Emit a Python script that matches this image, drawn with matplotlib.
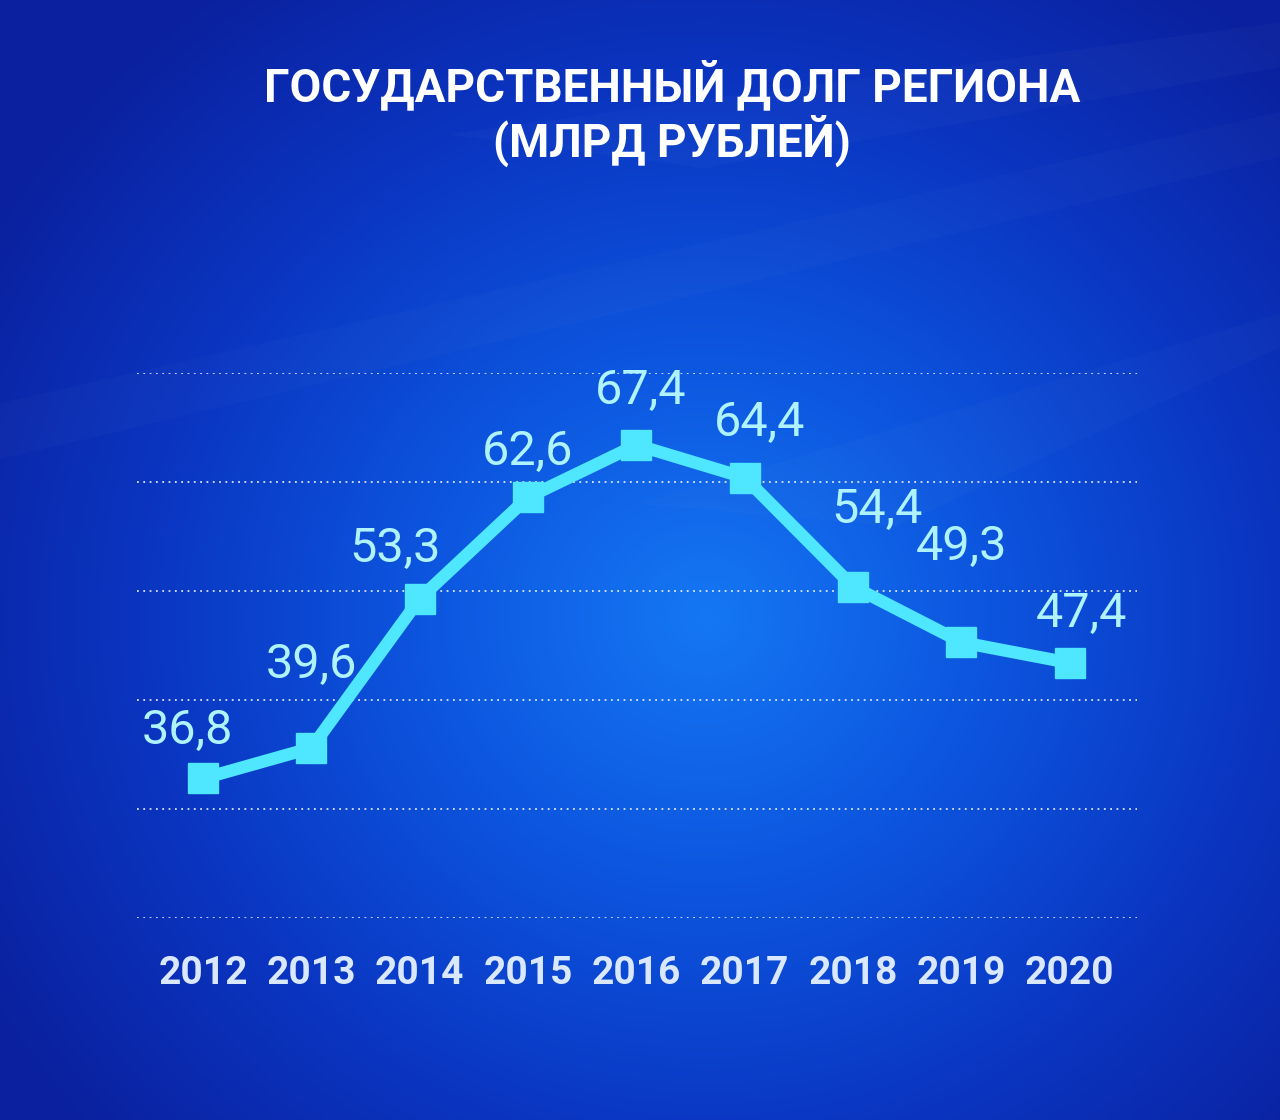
import matplotlib
matplotlib.use("Agg")
import matplotlib.pyplot as plt
import numpy as np
from matplotlib.colors import LinearSegmentedColormap

years = ["2012", "2013", "2014", "2015", "2016", "2017", "2018", "2019", "2020"]
debt = [36.8, 39.6, 53.3, 62.6, 67.4, 64.4, 54.4, 49.3, 47.4]
value_labels = ["36,8", "39,6", "53,3", "62,6", "67,4", "64,4", "54,4", "49,3", "47,4"]
title = "ГОСУДАРСТВЕННЫЙ ДОЛГ РЕГИОНА\n(МЛРД РУБЛЕЙ)"

# label offsets in pixels (dx, dy) relative to the points
offsets = [(-16, 48), (0, 83), (-25, 50), (0, 45), (4, 54), (15, 55), (24, 77), (0, 95), (12, 49)]

fig = plt.figure(figsize=(12.8, 11.2), dpi=100)

# background gradient
bg = fig.add_axes([0, 0, 1, 1])
h, w = 560, 640
yy, xx = np.mgrid[0:h, 0:w]
cx, cy = 0.55 * w, 0.55 * h
r = np.sqrt(((xx - cx) / (0.65 * w)) ** 2 + ((yy - cy) / (0.7 * h)) ** 2)
r = np.clip(r, 0, 1)
cmap = LinearSegmentedColormap.from_list("bg", ["#1577f3", "#0d56df", "#0a36c2", "#0a209e"])
bg.imshow(r, cmap=cmap, aspect="auto", extent=[0, 1, 0, 1], origin="upper")
# faint diagonal streaks
bg.fill([0.35, 1.0, 1.0, 0.55], [0.88, 0.98, 0.94, 0.85], color="white", alpha=0.025, lw=0)
bg.fill([0.0, 1.0, 1.0, 0.0], [0.64, 0.9, 0.86, 0.59], color="white", alpha=0.02, lw=0)
bg.fill([0.5, 1.0, 1.0, 0.7], [0.55, 0.72, 0.69, 0.53], color="white", alpha=0.02, lw=0)
bg.set_xlim(0, 1)
bg.set_ylim(0, 1)
bg.axis("off")

ax = fig.add_axes([137 / 1280, 1 - 918 / 1120, 1000 / 1280, 545 / 1120])
ax.patch.set_alpha(0)
x = np.arange(len(years))
ax.plot(x, debt, color="#4fe6ff", lw=9, marker="s", ms=22, solid_joinstyle="miter", zorder=3)
for xi, yi, lab, (dx, dy) in zip(x, debt, value_labels, offsets):
    ax.annotate(lab, (xi, yi), xytext=(dx * 0.72, dy * 0.72), textcoords="offset points",
                ha="center", va="center", fontsize=35, color="#aef3ff", family="Roboto")

ax.set_xlim(-0.61, 8.62)
ax.set_ylim(24, 74)
ax.set_yticks(np.arange(24, 75, 10))
ax.grid(axis="y", color="white", linestyle=(0, (1, 2.5)), lw=1.3, alpha=0.85)
ax.set_xticks(x)
ax.set_xticklabels(years, fontsize=28, fontweight="bold", color="#d9e8ff", family="Roboto")
ax.tick_params(axis="x", length=0, pad=27)
ax.tick_params(axis="y", length=0, labelleft=False)
for s in ax.spines.values():
    s.set_visible(False)

fig.text(0.525, 0.899, title, ha="center", va="center", fontsize=33, fontweight="bold",
         color="white", family="Roboto", linespacing=1.1)

fig.savefig("out.png", dpi=100)
